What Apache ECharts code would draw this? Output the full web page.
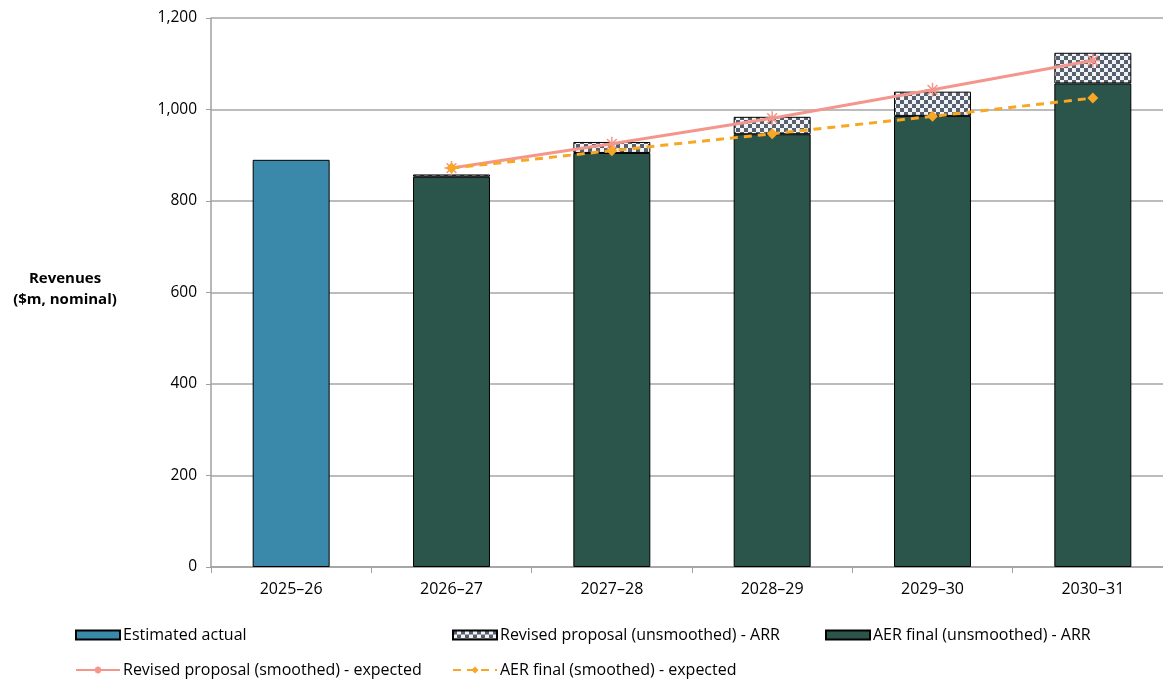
<!DOCTYPE html>
<html lang="en">
<head>
    <meta charset="UTF-8">
    <title>Revenues</title>
    <script src="https://cdn.jsdelivr.net/npm/echarts@6/dist/echarts.min.js"></script>
    <style>
        html, body { margin: 0; padding: 0; background: #fff; overflow: hidden; }
        #chart { width: 1163px; height: 679px; }
    </style>
</head>
<body>
<div id="chart"></div>
<script type="text/javascript">
    var years = ['2025–26', '2026–27', '2027–28', '2028–29', '2029–30', '2030–31'];
    var estimatedActual = [890, null, null, null, null, null];
    var aerFinalArr = [null, 853, 905, 946, 986, 1057];
    var revisedArrTotal = [null, 858, 929, 984, 1039, 1124];
    var revisedSmoothed = [null, 872, 925, 981, 1043, 1107];
    var aerSmoothed = [null, 872, 910, 947, 985, 1025];
    var yTicks = [0, 200, 400, 600, 800, 1000, 1200];

    // checker pattern for the revised proposal bars
    var cv = document.createElement('canvas');
    cv.width = 8; cv.height = 8;
    var cx = cv.getContext('2d');
    cx.fillStyle = '#f2f3f5'; cx.fillRect(0, 0, 8, 8);
    cx.fillStyle = '#56606e'; cx.fillRect(0, 0, 4, 4); cx.fillRect(4, 4, 4, 4);

    var revisedDiff = revisedArrTotal.map(function (v, i) {
        return v == null ? null : v - aerFinalArr[i];
    });

    var font = '"Open Sans", "Liberation Sans", Arial, sans-serif';
    var asterisk = 'path://M0,5L10,5L5,5L5,0L5,10L5,5L1.5,1.5L8.5,8.5L5,5L8.5,1.5L1.5,8.5L5,5Z';

    var chart = echarts.init(document.getElementById('chart'));
    var legendBase = {
        orient: 'horizontal',
        itemWidth: 44,
        itemHeight: 9,
        itemGap: 6,
        textStyle: { fontFamily: font, fontSize: 16, color: '#000', padding: [0, 0, 0, -2] }
    };
    function lg(item, left, top) {
        return Object.assign({}, legendBase, { data: [item], left: left, top: top });
    }
    var option = {
        animation: false,
        textStyle: { fontFamily: font },
        grid: { left: 211, width: 962, top: 18, height: 549, outerBoundsMode: 'none' },
        graphic: [{
            type: 'text',
            x: 65,
            y: 268,
            style: {
                text: 'Revenues\n($m, nominal)',
                fontFamily: font,
                fontSize: 15,
                fontWeight: 'bold',
                align: 'center',
                lineHeight: 21,
                fill: '#000'
            }
        }],
        legend: [
            lg({ name: 'Estimated actual', icon: 'rect' }, 70, 622),
            lg({ name: 'Revised proposal (unsmoothed) - ARR', icon: 'rect' }, 447, 622),
            lg({ name: 'AER final (unsmoothed) - ARR', icon: 'rect' }, 820, 622),
            lg({ name: 'Revised proposal (smoothed) - expected' }, 70, 657),
            lg({ name: 'AER final (smoothed) - expected' }, 447, 657)
        ],
        xAxis: {
            type: 'category',
            data: years,
            axisLine: { lineStyle: { color: '#a0a0a0', width: 1.5 } },
            axisTick: { show: true, length: 6, lineStyle: { color: '#a0a0a0' } },
            axisLabel: { fontFamily: font, fontSize: 16, color: '#000', margin: 14 }
        },
        yAxis: {
            type: 'value',
            min: 0,
            max: 1200,
            interval: 200,
            axisLine: { show: true, lineStyle: { color: '#a0a0a0', width: 1.5 } },
            axisTick: { show: true, length: 5, lineStyle: { color: '#a0a0a0' } },
            splitLine: { lineStyle: { color: '#a6a6a6', width: 1.5 } },
            axisLabel: {
                fontFamily: font, fontSize: 15.5, color: '#000', margin: 14,
                formatter: function (v) {
                    return yTicks.indexOf(v) >= 0 ? v.toLocaleString('en-US') : '';
                }
            }
        },
        series: [
            {
                name: 'Estimated actual',
                type: 'bar',
                stack: 'rev',
                barWidth: '48%',
                data: estimatedActual,
                itemStyle: { color: '#3a88aa', borderColor: '#000', borderWidth: 1 }
            },
            {
                name: 'AER final (unsmoothed) - ARR',
                type: 'bar',
                stack: 'rev',
                data: aerFinalArr,
                itemStyle: { color: '#2b554a', borderColor: '#000', borderWidth: 1 }
            },
            {
                name: 'Revised proposal (unsmoothed) - ARR',
                type: 'bar',
                stack: 'rev',
                data: revisedDiff,
                itemStyle: {
                    color: { image: cv, repeat: 'repeat' },
                    borderColor: '#000',
                    borderWidth: 1
                }
            },
            {
                name: 'Revised proposal (smoothed) - expected',
                type: 'line',
                data: revisedSmoothed,
                symbol: asterisk,
                symbolSize: 14,
                z: 5,
                lineStyle: { color: '#f4968c', width: 3 },
                itemStyle: { color: '#f4968c', borderColor: '#f4968c', borderWidth: 1.5 }
            },
            {
                name: 'AER final (smoothed) - expected',
                type: 'line',
                data: aerSmoothed,
                symbol: 'diamond',
                symbolSize: 11,
                z: 6,
                lineStyle: { color: '#f7a723', width: 3, type: [8, 6] },
                itemStyle: { color: '#f7a723' }
            }
        ]
    };
    chart.setOption(option);
</script>
</body>
</html>
